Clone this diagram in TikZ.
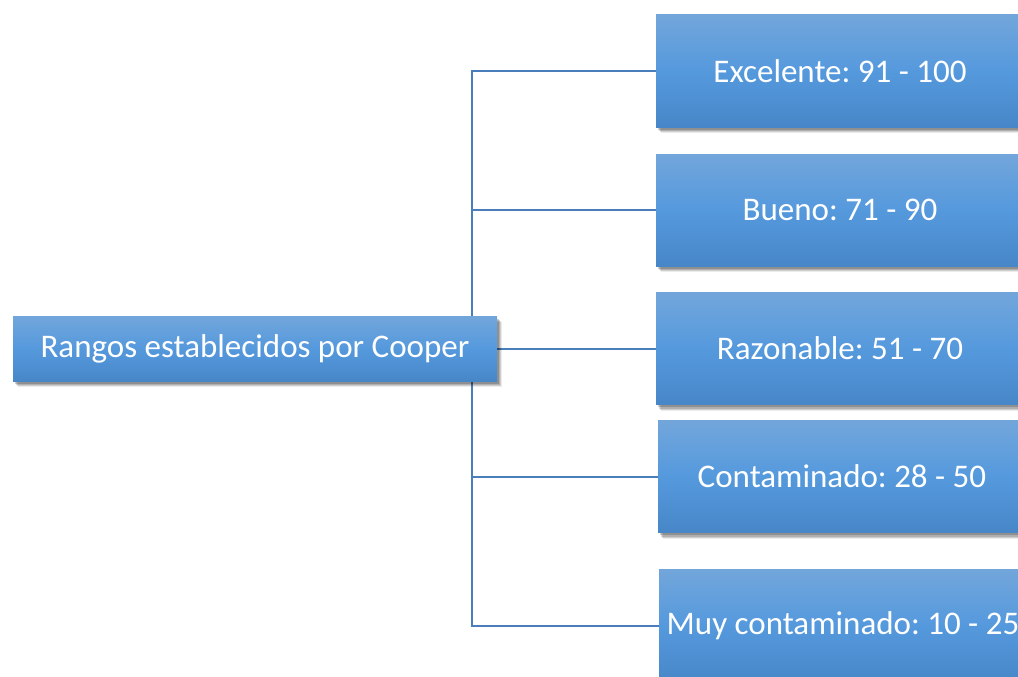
\documentclass[tikz,border=0pt]{standalone}
\usepackage{fontspec}
\setmainfont{Carlito}
\usetikzlibrary{shadows,backgrounds}
\definecolor{boxtop}{HTML}{72A6DB}
\definecolor{boxmid}{HTML}{5599DD}
\definecolor{boxbot}{HTML}{4787C8}
\definecolor{linkc}{HTML}{4A7EBB}
\frenchspacing
\tikzset{
  box/.style={rectangle, top color=boxtop, bottom color=boxbot, middle color=boxmid,
    text=white, font=\fontsize{33}{38}\selectfont, inner sep=0pt,
    drop shadow={shadow xshift=5pt, shadow yshift=-6pt, opacity=0.08, fill=black},
    drop shadow={shadow xshift=4pt, shadow yshift=-5pt, opacity=0.12, fill=black},
    drop shadow={shadow xshift=3pt, shadow yshift=-4pt, opacity=0.15, fill=black},
    drop shadow={shadow xshift=2pt, shadow yshift=-2.5pt, opacity=0.18, fill=black}},
  rootbox/.style={box, minimum width=484pt, minimum height=65pt},
  leafbox/.style={box, minimum width=368pt, minimum height=112pt},
  link/.style={draw=linkc, line width=2pt}
}
\begin{document}
\begin{tikzpicture}[x=1pt,y=-1pt]
\useasboundingbox (0,0) rectangle (1018,677);
\node[rootbox] (root) at (255,348.5) {Rangos establecidos por Cooper};
\node[leafbox] (b1) at (840,71) {Excelente: 91 - 100};
\node[leafbox] (b2) at (840,210) {Bueno: 71 - 90};
\node[leafbox] (b3) at (840,348.5) {Razonable: 51 - 70};
\node[leafbox] (b4) at (842,476.5) {Contaminado: 28 - 50};
\node[leafbox] (b5) at (843,625.5) {Muy contaminado: 10 - 25};
\coordinate (jx) at (472,0);
\begin{pgfonlayer}{background}
\draw[link] (b1.west) -| (jx |- b5.west) -- (b5.west);
\draw[link] (b2.west) -- (b2.west -| jx);
\draw[link] (b4.west) -- (b4.west -| jx);
\draw[link] (root.east) -- (b3.west);
\end{pgfonlayer}
\end{tikzpicture}
\end{document}
